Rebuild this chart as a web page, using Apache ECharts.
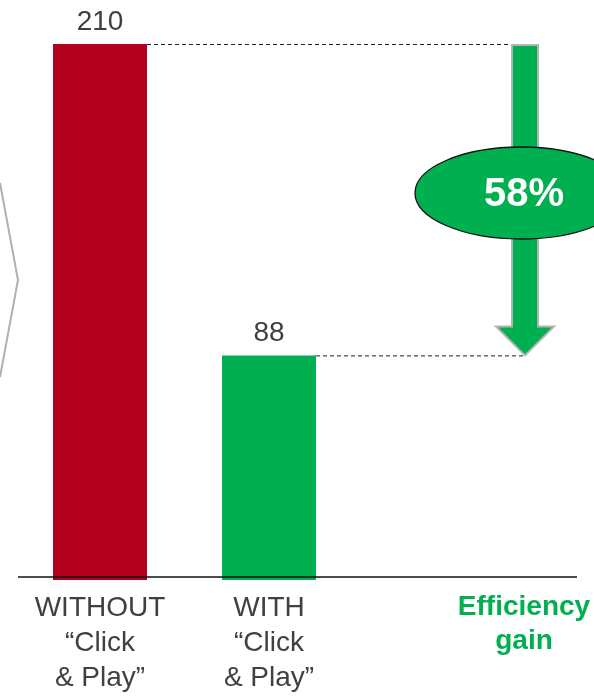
<!DOCTYPE html>
<html>
<head>
<meta charset="utf-8">
<script src="https://cdn.jsdelivr.net/npm/echarts@6/dist/echarts.min.js"></script>
<style>
html,body{margin:0;padding:0;background:#fff;}
#c{width:594px;height:696px;}
</style>
</head>
<body>
<div id="c"></div>
<script>
// ---- data ----
const categories = ['WITHOUT\n\u201CClick\n& Play\u201D', 'WITH\n\u201CClick\n& Play\u201D'];
const values = [210, 88];
const barColors = ['#B4001F', '#00B050'];
const gainLabel = 'Efficiency\ngain';

// ---- chart ----
const GREEN = '#00B050';
const TEXT = '#404040';
const FONT = 'Arial, "Liberation Sans", sans-serif';
const chart = echarts.init(document.getElementById('c'), null, {renderer: 'canvas'});

chart.setOption({
  animation: false,
  grid: {left: 15.5, width: 338, top: 44, bottom: 115, containLabel: false},
  xAxis: {
    type: 'category',
    data: categories,
    axisLine: {show: false},
    axisTick: {show: false},
    axisLabel: {
      color: TEXT, fontSize: 28, fontFamily: FONT, lineHeight: 35, margin: 11,
      interval: 0
    }
  },
  yAxis: {
    type: 'value', min: 0, max: 210, show: false,
    splitLine: {show: false}
  },
  series: [{
    type: 'bar',
    barWidth: 94,
    data: values.map((v, i) => ({value: v, itemStyle: {color: barColors[i]}})),
    label: {
      show: true, position: 'top', distance: 8,
      color: TEXT, fontSize: 28, fontFamily: FONT
    }
  }]
});

function px(cat, val) {
  return chart.convertToPixel({gridIndex: 0}, [cat, val]);
}

const top0 = px(0, values[0]);
const top1 = px(1, values[1]);
const base = px(0, 0);
const lineY = base[1] - 3;
const halfBar = 47;
const arrowX = 525;
const yTop = top0[1];
const yBot = top1[1];
const shaftHalf = 13;
const headHalf = 29;
const headLen = 29;
const gainPct = Math.round((values[0] - values[1]) / values[0] * 100) + '%';
const ellCy = 193;

chart.setOption({
  graphic: [
    // baseline
    {type: 'line', shape: {x1: 18, y1: lineY, x2: 577, y2: lineY},
      style: {stroke: '#111', lineWidth: 1.3}, z: 10},
    // dashed connectors
    {type: 'line', shape: {x1: top0[0] + halfBar, y1: yTop + 0.5, x2: arrowX + 3, y2: yTop + 0.5},
      style: {stroke: '#222', lineWidth: 1, lineDash: [4, 3]}, z: 5},
    {type: 'line', shape: {x1: top1[0] + halfBar, y1: yBot + 0.5, x2: arrowX, y2: yBot + 0.5},
      style: {stroke: '#222', lineWidth: 1, lineDash: [4, 3]}, z: 5},
    // arrow
    {type: 'polygon', shape: {points: [
      [arrowX - shaftHalf, yTop + 1], [arrowX + shaftHalf, yTop + 1],
      [arrowX + shaftHalf, yBot - headLen], [arrowX + headHalf, yBot - headLen],
      [arrowX, yBot], [arrowX - headHalf, yBot - headLen],
      [arrowX - shaftHalf, yBot - headLen]
    ]}, style: {fill: GREEN, stroke: '#b4b4b4', lineWidth: 2}, z: 6},
    // ellipse
    {type: 'ellipse', shape: {cx: 521, cy: ellCy, rx: 106, ry: 46},
      style: {fill: GREEN, stroke: '#111', lineWidth: 1.3}, z: 7},
    {type: 'text', x: 524, y: ellCy + 2, z: 8,
      style: {text: gainPct, fill: '#fff', font: 'bold 40px ' + FONT, align: 'center', verticalAlign: 'middle'}},
    // efficiency gain label
    {type: 'text', x: 524, y: 590, z: 8,
      style: {text: gainLabel, fill: GREEN, font: 'bold 28px ' + FONT, lineHeight: 34, align: 'center', verticalAlign: 'top'}},
    // chevron on the left
    {type: 'polyline', shape: {points: [[0, 183], [18, 280], [0, 377]]},
      style: {stroke: '#b0b0b0', lineWidth: 2, fill: null}, z: 3}
  ]
});
</script>
</body>
</html>
